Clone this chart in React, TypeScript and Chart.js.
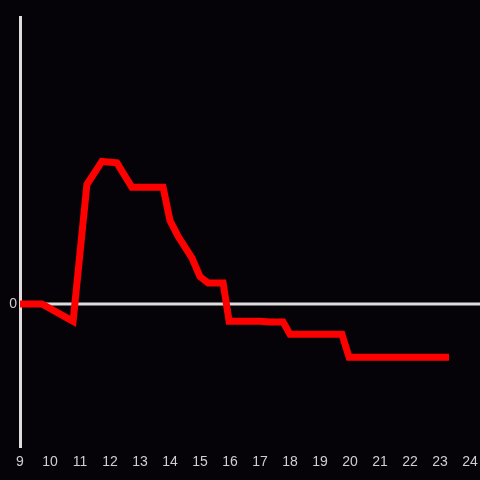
import React, { useEffect, useRef } from "react";
import { Chart, registerables } from "chart.js";

Chart.register(...registerables);

const hours: number[] = [9.0, 9.73, 10.77, 11.23, 11.73, 12.23, 12.73, 13.77, 14.0, 14.27, 14.73, 15.0, 15.27, 15.77, 15.97, 17.0, 17.33, 17.77, 18.0, 19.73, 19.97, 23.3];
const values: number[] = [0, 0, -0.12, 0.83, 0.99, 0.98, 0.81, 0.81, 0.58, 0.47, 0.32, 0.19, 0.146, 0.146, -0.12, -0.12, -0.125, -0.125, -0.21, -0.21, -0.37, -0.37];
const xTicks: number[] = [9, 10, 11, 12, 13, 14, 15, 16, 17, 18, 19, 20, 21, 22, 23, 24];
const yMin = -1;
const yMax = 2;

const BG = "#050308";
const AXIS = "#dddddd";
const TEXT = "#cfcfcf";

const zeroLine = {
  id: "zeroLine",
  beforeDatasetsDraw(chart: any) {
    const { ctx, chartArea, scales } = chart;
    const y = scales.y.getPixelForValue(0);
    ctx.save();
    ctx.strokeStyle = AXIS;
    ctx.lineWidth = 3;
    ctx.beginPath();
    ctx.moveTo(chartArea.left, y);
    ctx.lineTo(chart.width, y);
    ctx.stroke();
    ctx.beginPath();
    ctx.moveTo(chartArea.left + 0.5, chartArea.top);
    ctx.lineTo(chartArea.left + 0.5, chartArea.bottom);
    ctx.stroke();
    ctx.restore();
  },
};

export default function App() {
  const ref = useRef<HTMLCanvasElement | null>(null);
  useEffect(() => {
    document.body.style.margin = "0";
    document.body.style.background = BG;
    const canvas = ref.current!;
    const chart = new Chart(canvas, {
      type: "line",
      data: {
        datasets: [
          {
            data: hours.map((h, i) => ({ x: h, y: values[i] })),
            borderColor: "#ff0000",
            borderWidth: 7,
            pointRadius: 0,
            tension: 0,
            fill: false,
          },
        ],
      },
      options: {
        responsive: false,
        animation: false,
        layout: { padding: { top: 16, right: 10, left: 0, bottom: 0 } },
        plugins: { legend: { display: false }, tooltip: { enabled: false } },
        scales: {
          x: {
            type: "linear",
            min: 9,
            max: 24,
            afterBuildTicks: (scale: any) => {
              scale.ticks = xTicks.map((v) => ({ value: v }));
            },
            afterFit: (scale: any) => {
              scale.height = 32;
              scale.paddingRight = 0;
              scale.paddingLeft = 0;
            },
            grid: { display: false, drawTicks: false },
            border: { display: false },
            ticks: {
              color: TEXT,
              font: { family: "Liberation Sans, Arial, sans-serif", size: 14 },
              padding: 6,
              maxRotation: 0,
              autoSkip: false,
              callback: (v: any) => String(v),
            },
          },
          y: {
            min: yMin,
            max: yMax,
            afterBuildTicks: (scale: any) => {
              scale.ticks = [{ value: 0 }];
            },
            afterFit: (scale: any) => {
              scale.width = 20;
            },
            grid: { display: false, drawTicks: false },
            border: { display: false },
            ticks: {
              color: TEXT,
              font: { family: "Liberation Sans, Arial, sans-serif", size: 14 },
              padding: 3,
              callback: (v: any) => String(v),
            },
          },
        },
      },
      plugins: [zeroLine],
    });
    return () => chart.destroy();
  }, []);
  return (
    <div style={{ width: 480, height: 480, background: BG }}>
      <canvas ref={ref} width={480} height={480} style={{ display: "block" }} />
    </div>
  );
}
